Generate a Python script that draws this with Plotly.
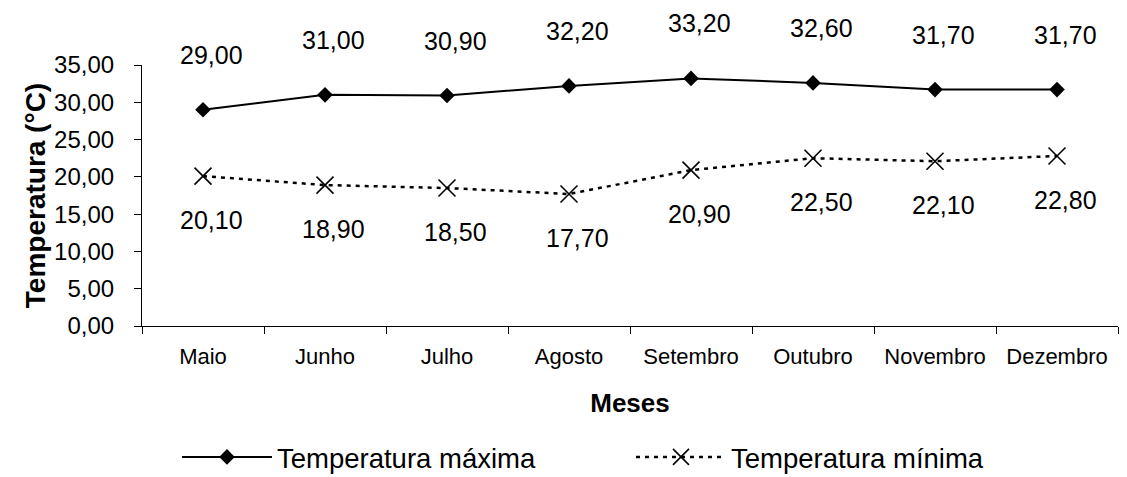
import plotly.graph_objects as go

months = ["Maio", "Junho", "Julho", "Agosto", "Setembro", "Outubro", "Novembro", "Dezembro"]
temp_max = [29.0, 31.0, 30.9, 32.2, 33.2, 32.6, 31.7, 31.7]
temp_min = [20.1, 18.9, 18.5, 17.7, 20.9, 22.5, 22.1, 22.8]
y_ticks = [0, 5, 10, 15, 20, 25, 30, 35]

FONT = "Liberation Sans, Arial, sans-serif"
W, H = 1119, 469  # page body keeps an 8px margin at top-left


def fmt(v):
    return f"{v:.2f}".replace(".", ",")


fig = go.Figure()
fig.add_trace(go.Scatter(
    x=months, y=temp_max, name="Temperatura máxima", mode="lines+markers",
    line=dict(color="black", width=2),
    marker=dict(symbol="diamond", size=12, color="black"),
    cliponaxis=False,
))
fig.add_trace(go.Scatter(
    x=months, y=temp_min, name="Temperatura mínima", mode="lines+markers",
    line=dict(color="black", width=2.5, dash="4px,5px"),
    marker=dict(symbol="x-thin-open", size=17, color="black",
                line=dict(color="black", width=1.6)),
    cliponaxis=False,
))

for m, v in zip(months, temp_max):
    fig.add_annotation(x=m, y=v, text=fmt(v), showarrow=False, yshift=55, xshift=8,
                       font=dict(family=FONT, size=25, color="black"))
for m, v in zip(months, temp_min):
    fig.add_annotation(x=m, y=v, text=fmt(v), showarrow=False, yshift=-44, xshift=8,
                       font=dict(family=FONT, size=25, color="black"))

fig.update_layout(
    width=W, height=H,
    margin=dict(l=134, r=9, t=57, b=151),
    paper_bgcolor="white", plot_bgcolor="white",
    separators=",.",
    font=dict(family=FONT, color="black"),
    showlegend=True,
    legend=dict(orientation="h", xref="container", yref="container",
                x=0.151, y=1 - 449 / H, xanchor="left", yanchor="middle",
                font=dict(family=FONT, size=27.5, color="black"),
                itemwidth=90, entrywidth=349, bgcolor="rgba(0,0,0,0)"),
)
fig.update_xaxes(
    type="category", range=[-0.5, 7.5], automargin=False,
    showline=True, linecolor="black", linewidth=1.2,
    ticks="outside", ticklen=7, tickcolor="black", tickson="boundaries",
    ticklabelstandoff=10,
    showgrid=False, zeroline=False,
    tickfont=dict(family=FONT, size=22, color="black"),
    title=dict(text="<b>Meses</b>", font=dict(family=FONT, size=26, color="black"), standoff=26),
)
fig.update_yaxes(
    range=[0, 35], tickvals=y_ticks, tickformat=".2f", automargin=False,
    showline=True, linecolor="black", linewidth=1.2,
    ticks="outside", ticklen=7, tickcolor="black",
    ticklabelstandoff=15,
    showgrid=False, zeroline=False,
    tickfont=dict(family=FONT, size=24, color="black"),
    title=dict(text="<b>Temperatura (°C)</b>", font=dict(family=FONT, size=28, color="black"), standoff=0),
)

fig.write_html("out.html")
